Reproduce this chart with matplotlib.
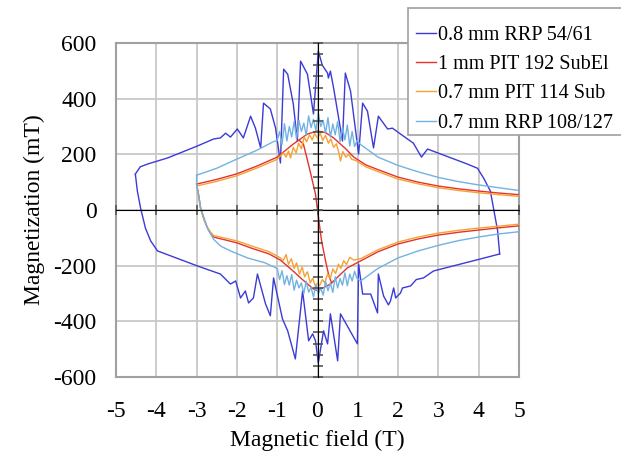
import numpy as np
import matplotlib
matplotlib.use("Agg")
import matplotlib.pyplot as plt
from matplotlib.patches import Rectangle

plt.rcParams["font.family"] = ["Liberation Serif", "DejaVu Serif"]
plt.rcParams["axes.unicode_minus"] = False

# ── series (field in T, magnetization in mT) ─────────────────────────────────

labels = ["0.8 mm RRP 54/61", "1 mm PIT 192 SubEl",
          "0.7 mm PIT 114 Sub", "0.7 mm RRP 108/127"]
colors = ["#3b3bd6", "#e5322b", "#f6a133", "#72b2e3"]

# 0.8 mm RRP 54/61: upper branch (left to right), flux jumps near zero field
rrp54_up_x = [-4.52, -4.40, -4.22, -3.72, -2.98, -2.58, -2.41, -2.28, -2.16, -1.99,
              -1.84, -1.66, -1.54, -1.41, -1.34, -1.17, -1.04, -0.92, -0.84, -0.74,
              -0.60, -0.50, -0.42, -0.25, -0.10, 0.02, 0.12, 0.25, 0.27, 0.32,
              0.40, 0.62, 0.69, 0.82, 1.02, 1.12, 1.24, 1.39, 1.51, 1.74,
              1.86, 2.06, 2.38, 2.58, 2.73, 3.72, 3.97, 4.12, 4.29, 4.47, 4.52]
rrp54_up_y = [129, 155, 165, 187, 230, 255, 259, 276, 262, 291,
              259, 337, 294, 223, 384, 363, 294, 169, 506, 488,
              380, 248, 535, 488, 345, 571, 520, 492, 474, 499,
              438, 248, 492, 427, 201, 384, 355, 223, 337, 291,
              294, 273, 240, 190, 219, 165, 150, 115, 68, -75, -158]
# lower branch (right to left)
rrp54_lo_x = [4.52, 4.04, 2.88, 2.63, 2.45, 2.31, 2.11, 2.06, 1.94, 1.89,
              1.81, 1.76, 1.64, 1.51, 1.49, 1.32, 1.12, 1.02, 0.99, 0.57,
              0.50, 0.32, 0.25, 0.15, 0.02, -0.05, -0.12, -0.22, -0.37, -0.55,
              -0.74, -0.87, -1.09, -1.17, -1.29, -1.49, -1.59, -1.71, -1.79, -1.91,
              -2.03, -2.16, -2.41, -2.98, -3.97, -4.14, -4.27, -4.39, -4.47, -4.52]
rrp54_lo_y = [-158, -176, -219, -244, -250, -273, -280, -298, -316, -280,
              -327, -341, -309, -230, -370, -302, -302, -194, -481, -373,
              -542, -373, -481, -434, -549, -470, -445, -470, -291, -535,
              -434, -391, -244, -380, -337, -230, -316, -334, -291, -316,
              -255, -266, -230, -201, -147, -111, -65, 7, 68, 129]

# 1 mm PIT 192 SubEl
pit192_up_x = [-3.0, -2.5, -2.0, -1.5, -1.0, -0.6, -0.25, 0.0, 0.2, 0.4,
               0.7, 0.9, 1.2, 1.5, 2.0, 2.5, 3.0, 3.5, 4.0, 4.5, 5.0]
pit192_up_y = [93, 110, 130, 158, 190, 237, 273, 284, 278, 259,
               220, 190, 162, 145, 118, 100, 86, 76, 68, 61, 55]
pit192_lo_x = [-3.0, -2.95, -2.9, -2.8, -2.73, -2.65, -2.58, -2.45, -2.33, -2.0,
               -1.66, -1.2, -0.92, -0.6, -0.42, -0.1, 0.0, 0.32, 0.74, 1.07,
               1.5, 2.0, 2.5, 3.0, 3.5, 4.0, 4.5, 5.0]
pit192_lo_y = [93, 55, 7, -40, -65, -85, -97, -102, -106, -118,
               -136, -158, -180, -220, -244, -284, -290, -266, -208, -183,
               -150, -122, -104, -90, -80, -72, -64, -57]
pit192_mid_x = [-0.45, -0.35, -0.2, -0.05, 0.0, 0.1, 0.2, 0.28, 0.35]
pit192_mid_y = [250, 237, 150, 57, 0, -110, -183, -235, -262]

# 0.7 mm PIT 114 Sub
pit114_up_x = [-3.0, -2.5, -2.0, -1.5, -1.0, -0.85, -0.78, -0.72, -0.67, -0.6,
               -0.53, -0.47, -0.4, -0.33, -0.27, -0.2, -0.13, -0.07, 0.0, 0.07,
               0.13, 0.2, 0.27, 0.33, 0.4, 0.47, 0.53, 0.57, 0.63, 0.7,
               0.78, 0.85, 0.95, 1.2, 1.5, 2.0, 2.5, 3.0, 3.5, 4.0, 4.5, 5.0]
pit114_up_y = [86, 103, 123, 151, 182, 205, 190, 212, 187, 225,
               205, 240, 220, 262, 245, 270, 252, 275, 258, 276,
               250, 268, 240, 255, 225, 238, 205, 176, 210, 190,
               200, 182, 178, 155, 138, 111, 94, 80, 70, 62, 55, 49]
pit114_lo_x = [-3.0, -2.95, -2.9, -2.8, -2.73, -2.65, -2.58, -2.45, -2.33, -2.0,
               -1.66, -1.2, -0.92, -0.85, -0.78, -0.72, -0.65, -0.58, -0.52, -0.45,
               -0.38, -0.32, -0.25, -0.18, -0.12, -0.05, 0.0, 0.05, 0.12, 0.18,
               0.25, 0.32, 0.38, 0.45, 0.52, 0.58, 0.65, 0.72, 0.8, 0.9,
               1.07, 1.5, 2.0, 2.5, 3.0, 3.5, 4.0, 4.5, 5.0]
pit114_lo_y = [86, 50, 2, -42, -62, -80, -92, -96, -100, -111,
               -128, -150, -172, -182, -160, -195, -175, -210, -190, -230,
               -205, -240, -222, -262, -245, -275, -262, -272, -250, -262,
               -230, -245, -212, -228, -195, -210, -182, -196, -170, -180,
               -175, -143, -115, -97, -83, -73, -65, -58, -51]

# 0.7 mm RRP 108/127
rrp108_up_x = [-3.0, -2.5, -2.0, -1.5, -1.1, -1.0, -0.94, -0.88, -0.82, -0.76,
               -0.70, -0.64, -0.58, -0.52, -0.46, -0.40, -0.34, -0.28, -0.22, -0.16,
               -0.10, -0.04, 0.02, 0.08, 0.14, 0.20, 0.26, 0.32, 0.38, 0.44,
               0.50, 0.56, 0.62, 0.68, 0.74, 0.80, 0.86, 0.92, 0.98, 1.07,
               1.5, 2.0, 2.5, 3.0, 3.5, 4.0, 4.5, 5.0]
rrp108_up_y = [125, 150, 183, 215, 245, 250, 282, 236, 310, 248,
               300, 262, 318, 255, 322, 282, 312, 268, 338, 296,
               326, 286, 348, 300, 322, 276, 332, 262, 309, 270,
               318, 246, 296, 252, 305, 230, 282, 228, 250, 235,
               190, 160, 137, 117, 102, 90, 80, 70]
rrp108_lo_x = [-3.0, -3.0, -2.9, -2.73, -2.58, -2.4, -2.16, -1.74, -1.3, -1.0,
               -0.94, -0.88, -0.82, -0.76, -0.70, -0.64, -0.58, -0.52, -0.46, -0.40,
               -0.34, -0.28, -0.22, -0.16, -0.10, -0.04, 0.02, 0.08, 0.14, 0.20,
               0.26, 0.32, 0.38, 0.44, 0.50, 0.56, 0.62, 0.68, 0.74, 0.80,
               0.86, 0.92, 0.98, 1.07, 1.5, 2.0, 2.5, 3.0, 3.5, 4.0, 4.5, 5.0]
rrp108_lo_y = [125, 95, 7, -65, -105, -130, -147, -172, -190, -210,
               -250, -218, -268, -236, -270, -232, -288, -252, -280, -262,
               -300, -256, -295, -278, -312, -268, -302, -280, -306, -256,
               -290, -262, -296, -240, -280, -246, -270, -226, -272, -230,
               -255, -220, -246, -255, -210, -172, -147, -127, -110, -97, -86, -78]

series = [
    [(rrp54_up_x, rrp54_up_y), (rrp54_lo_x, rrp54_lo_y)],
    [(pit192_up_x, pit192_up_y), (pit192_lo_x, pit192_lo_y), (pit192_mid_x, pit192_mid_y)],
    [(pit114_up_x, pit114_up_y), (pit114_lo_x, pit114_lo_y)],
    [(rrp108_up_x, rrp108_up_y), (rrp108_lo_x, rrp108_lo_y)],
]

# ── figure ────────────────────────────────────────────────────────────────────

W, H = 621, 455
fig = plt.figure(figsize=(W / 100, H / 100), dpi=100)
ax = fig.add_axes([116 / W, 1 - 377 / H, 403 / W, 334 / H])

for segs, color, label in zip(series, colors, labels):
    for i, (x, y) in enumerate(segs):
        ax.plot(x, y, color=color, lw=1.0, label=label if i == 0 else None,
                zorder=3)

ax.set_xlim(-5, 5)
ax.set_ylim(-600, 600)
ax.set_xticks(np.arange(-5, 6, 1))
ax.set_yticks(np.arange(-600, 601, 200))
ax.grid(True, color="#c8c8c8", lw=1.3)
ax.set_axisbelow(True)
ax.tick_params(length=0, labelsize=17)
ax.tick_params(axis="x", pad=17)
ax.tick_params(axis="y", pad=14)
for s in ax.spines.values():
    s.set_color("#a0a0a0")
    s.set_linewidth(1.5)

ax.set_xlabel("Magnetic field (T)", fontsize=17, labelpad=6)
ax.set_ylabel("Magnetization (mT)", fontsize=17, labelpad=6)

# axes crossing at the origin, with tick marks but no labels
sx = ax.secondary_xaxis(0.5)
sx.set_xticks(np.arange(-5, 6, 1))
sx.tick_params(direction="inout", length=7, width=1.2, color="#555555",
               labelbottom=False, labeltop=False)
sx.spines["bottom"].set_color("#555555")
sx.spines["bottom"].set_linewidth(1.5)
sx.set_zorder(4)

sy = ax.secondary_yaxis(0.5)
sy.set_yticks(np.arange(-600, 601, 200))
sy.set_yticks(np.arange(-600, 601, 40), minor=True)
sy.tick_params(which="both", direction="inout", length=7, width=1.2,
               color="#555555", labelleft=False, labelright=False)
sy.spines["left"].set_color("#555555")
sy.spines["left"].set_linewidth(1.5)
sy.set_zorder(4)

# legend box runs off the right edge, so the frame is drawn separately
box = Rectangle((408 / W, 1 - 135 / H), 240 / W, 127 / H,
                transform=fig.transFigure, facecolor="white",
                edgecolor="#a0a0a0", lw=1.2, zorder=4)
fig.add_artist(box)
leg = fig.legend(loc="upper left", bbox_to_anchor=(408 / W, 1 - 18 / H),
                 fontsize=14.5, handlelength=1.0, handletextpad=0.1,
                 labelspacing=0.5, borderpad=0.4, borderaxespad=0,
                 frameon=False)
leg.set_zorder(5)

fig.savefig("out.png", dpi=100, facecolor="white")
